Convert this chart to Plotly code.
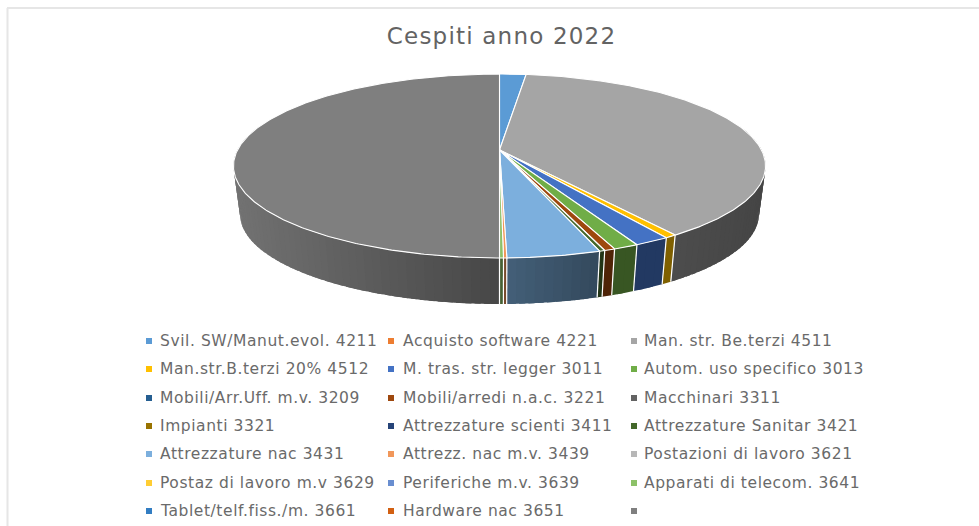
import math
import numpy as np
import plotly.graph_objects as go

TITLE = "Cespiti anno 2022"
categories = [
    "Svil. SW/Manut.evol. 4211", "Acquisto software 4221", "Man. str. Be.terzi 4511",
    "Man.str.B.terzi 20% 4512", "M. tras. str. legger 3011", "Autom. uso specifico 3013",
    "Mobili/Arr.Uff. m.v. 3209", "Mobili/arredi n.a.c. 3221", "Macchinari 3311",
    "Impianti 3321", "Attrezzature scienti 3411", "Attrezzature Sanitar 3421",
    "Attrezzature nac 3431", "Attrezz. nac m.v. 3439", "Postazioni di lavoro 3621",
    "Postaz di lavoro m.v 3629", "Periferiche m.v. 3639", "Apparati di telecom. 3641",
    "Tablet/telf.fiss./m. 3661", "Hardware nac 3651", "",
]
values = [1.9, 0, 38.35, 0.6, 1.85, 1.3, 0, 0.55, 0, 0, 0, 0.28, 4.8, 0.17, 0, 0, 0, 0.2, 0, 0, 50.0]
colors = ["#5b9bd5", "#ed7d31", "#a5a5a5", "#ffc000", "#4472c4", "#70ad47", "#255e91", "#9e480e",
          "#636363", "#997300", "#264478", "#43682b", "#7cafdd", "#f1975a", "#b7b7b7", "#ffcd33",
          "#698ed0", "#8cc168", "#327dc2", "#d26012", "#7f7f7f"]
FONT = "DejaVu Sans"
TEXT_COLOR = "#6a6a6a"

# perspective pie geometry (pixels of the 979x526 canvas)
CX, CY, R, A, K = 499.5, 150.0, 262.0, 89.2, 0.174
DEPTH, SHRINK = 48.7, 0.975


def top(theta):
    u, v = np.sin(theta), np.cos(theta)
    d = 1 + K * v
    return CX + R * u / d, CY - A * v / d


def bottom(theta):
    x, y = top(theta)
    return CX + SHRINK * (x - CX), CY + DEPTH + SHRINK * (y - CY)


def shade(hex_color, f):
    r, g, b = (int(hex_color[i:i + 2], 16) for i in (1, 3, 5))
    return f"rgb({int(r * f)},{int(g * f)},{int(b * f)})"


fig = go.Figure()
total = sum(values)
spans = []
start = 0.0
for val, col in zip(values, colors):
    end = start + val / total * 2 * math.pi
    if val > 0:
        spans.append((start, end, col, val))
    start = end

# side walls, drawn as overlapping narrow strips so that the shading follows the rim
for a0, a1, col, val in spans:
    lo, hi = max(a0, math.pi / 2 - 0.25), min(a1, 3 * math.pi / 2 + 0.25)
    if hi <= lo:
        continue
    n = max(1, int((hi - lo) / 0.03))
    edges = np.linspace(lo, hi, n + 1)
    for t0, t1 in zip(edges[:-1], edges[1:]):
        xm = top((t0 + t1) / 2)[0]
        if val > 30:
            f = float(np.interp(xm, [235, 499, 765], [0.9, 0.56, 0.42]))
        elif val > 3:
            f = float(np.interp(xm, [505, 600], [0.55, 0.42]))
        else:
            f = 0.5
        tt = np.linspace(t0, min(t1 + 0.02, hi), 3)
        xt, yt = top(tt)
        xb, yb = bottom(tt[::-1])
        fig.add_trace(go.Scatter(x=np.r_[xt, xb], y=np.r_[yt, yb], mode="none", fill="toself",
                                 fillcolor=shade(col, f), hoverinfo="skip"))

# white separators on the side walls
for a0, a1, col, val in spans:
    if math.pi / 2 < a1 < 3 * math.pi / 2:
        xt, yt = top(a1)
        xb, yb = bottom(a1)
        fig.add_trace(go.Scatter(x=[xt, xb], y=[yt, yb], mode="lines",
                                 line=dict(color="#ffffff", width=1.2), hoverinfo="skip"))

# top faces
for a0, a1, col, val in spans:
    tt = np.linspace(a0, a1, max(2, int((a1 - a0) / 0.01)))
    xt, yt = top(tt)
    fig.add_trace(go.Scatter(x=np.r_[CX, xt, CX], y=np.r_[CY, yt, CY], mode="lines", fill="toself",
                             fillcolor=col, line=dict(color="#ffffff", width=1.1), hoverinfo="skip"))

# legend rows
COLS = [(149, 158), (391, 401), (634, 642)]
ROWS = [341, 369, 398, 426, 454, 483, 511]
annotations = [dict(x=501.5, y=36, xref="x", yref="y", text=TITLE, showarrow=False,
                    font=dict(family=FONT, size=23, color="#636363"), xanchor="center", yanchor="middle")]
for i, (name, col) in enumerate(zip(categories, colors)):
    mx, tx = COLS[i % 3]
    y = ROWS[i // 3]
    fig.add_trace(go.Scatter(x=[mx], y=[y], mode="markers",
                             marker=dict(symbol="square", size=6, color=col), hoverinfo="skip"))
    if name:
        annotations.append(dict(x=tx, y=y, xref="x", yref="y", text=name, showarrow=False,
                                font=dict(family=FONT, size=15.5, color=TEXT_COLOR),
                                xanchor="left", yanchor="middle"))

frame = [
    dict(type="line", xref="x", yref="y", x0=7.5, x1=7.5, y0=8, y1=526, line=dict(color="#e6e6e6", width=2)),
    dict(type="line", xref="x", yref="y", x0=7, x1=979, y0=8, y1=8, line=dict(color="#e6e6e6", width=2)),
]

fig.update_layout(
    width=979, height=526, margin=dict(l=0, r=0, t=0, b=0), autosize=False,
    showlegend=False, paper_bgcolor="#ffffff", plot_bgcolor="#ffffff",
    xaxis=dict(range=[0, 979], visible=False, fixedrange=True),
    yaxis=dict(range=[526, 0], visible=False, fixedrange=True),
    annotations=annotations, shapes=frame,
)
POST = """
document.body.style.margin='0';
document.documentElement.style.overflow='hidden';
document.querySelectorAll('.annotation-text').forEach(function(t){
  var isTitle = t.textContent.indexOf('Cespiti')===0;
  var left0 = t.getBBox().x;
  t.style.letterSpacing = isTitle ? '1.2px' : '0.57px';
  if (!isTitle) {
    var dx = t.getBBox().x - left0;
    t.setAttribute('x', parseFloat(t.getAttribute('x')) - dx);
  }
});
"""
fig.write_html("out.html", config={"displayModeBar": False}, post_script=POST)
